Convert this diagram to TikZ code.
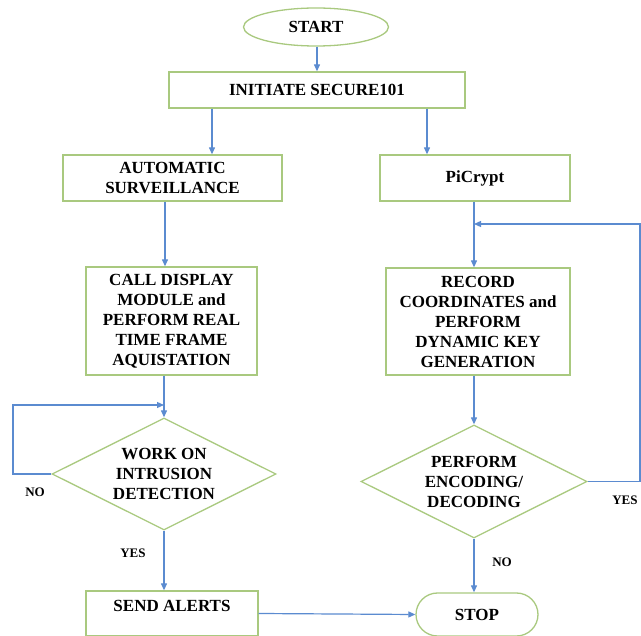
\documentclass[tikz,border=0pt]{standalone}
\usepackage{fontspec}
\setmainfont{Liberation Serif}
\usetikzlibrary{shapes.geometric,shapes.misc,arrows.meta}
\definecolor{boxgreen}{HTML}{A9C97F}
\definecolor{lineblue}{HTML}{5B8BD0}
\begin{document}
\begin{tikzpicture}[x=1pt,y=-1pt,
  every node/.style={font=\bfseries\fontsize{17}{20}\selectfont, text=black},
  box/.style={draw=boxgreen, line width=1.3pt, rectangle, inner sep=0pt, align=center},
  dec/.style={draw=boxgreen, line width=1.3pt, diamond, shape aspect=2, inner sep=0pt, align=center},
  flow/.style={draw=lineblue, line width=1.2pt, -{Triangle[length=7pt,width=6pt]}},
  lbl/.style={font=\bfseries\fontsize{13}{15}\selectfont}]
\useasboundingbox (0,0) rectangle (641,636);

\node[ellipse, draw=boxgreen, line width=1.3pt, minimum width=145pt, minimum height=38pt, inner sep=0pt] (start) at (316,27) {START};
\node[box, minimum width=296pt, minimum height=36pt] (init) at (317,90) {INITIATE SECURE101};
\node[box, minimum width=219pt, minimum height=46pt] (auto) at (172.5,178) {AUTOMATIC\\SURVEILLANCE};
\node[box, minimum width=190pt, minimum height=46pt] (picrypt) at (475,178) {PiCrypt};
\node[box, minimum width=171pt, minimum height=108pt] (call) at (171.5,321) {CALL DISPLAY\\MODULE and\\PERFORM REAL\\TIME FRAME\\AQUISTATION};
\node[box, minimum width=184pt, minimum height=107pt] (record) at (478,321.5) {RECORD\\COORDINATES and\\PERFORM\\DYNAMIC KEY\\GENERATION};
\node[dec, minimum width=224pt, minimum height=112pt] (work) at (164,474) {WORK ON\\INTRUSION\\DETECTION};
\node[dec, minimum width=226pt, minimum height=113pt] (perform) at (474,481.5) {PERFORM\\ENCODING/\\DECODING};
\node[box, minimum width=172pt, minimum height=45pt, text height=11.3pt, text depth=15pt] (alerts) at (172,613.5) {SEND ALERTS};
\node[rounded rectangle, draw=boxgreen, line width=1.3pt, minimum width=122pt, minimum height=43pt, inner sep=0pt] (stop) at (477,614.5) {STOP};

\node[lbl] (no1) at (35,492) {NO};
\node[lbl] (yes1) at (133,553) {YES};
\node[lbl] (no2) at (502,562) {NO};
\node[lbl] (yes2) at (625,500) {YES};

\coordinate (colL) at (165,0);
\coordinate (colR) at (474,224);
\coordinate (loopc) at (13,405);
\coordinate (fbA) at (640,224);

\draw[flow] (start.south -| init.north) -- (init.north);
\draw[flow] ([xshift=-105pt]init.south) -- ([xshift=-105pt]init.south |- auto.north);
\draw[flow] ([xshift=110pt]init.south) -- ([xshift=110pt]init.south |- picrypt.north);
\draw[flow] (auto.south -| colL) -- (call.north -| colL);
\draw[flow] (call.south -| work.north) -- (work.north);
\draw[flow] (work.west) -| (loopc) -- (work.north |- loopc);
\draw[flow] (work.south) -- (work.south |- alerts.north);
\draw[flow] (alerts.east) -- (stop.west);
\draw[flow] (picrypt.south -| colR) -- (record.north -| colR);
\draw[flow] (record.south -| perform.north) -- (perform.north);
\draw[flow] (perform.east) -| (fbA) -- (colR);
\draw[flow] (perform.south) -- (perform.south |- stop.north);
\end{tikzpicture}
\end{document}
